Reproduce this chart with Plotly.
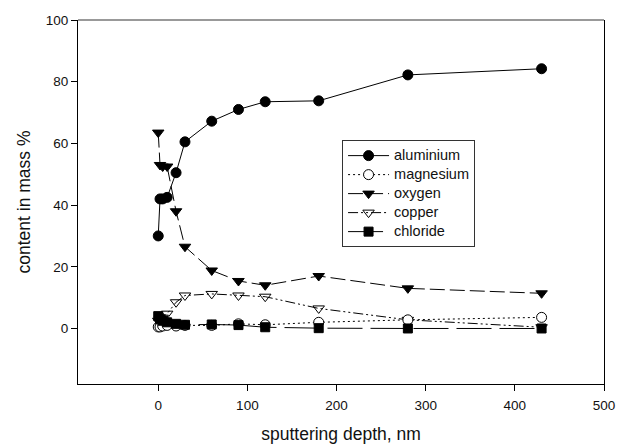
import plotly.graph_objects as go

depth = [0, 2, 5, 10, 20, 30, 60, 90, 120, 180, 280, 430]
aluminium = [30, 42, 42, 42.5, 50.5, 60.5, 67.2, 71, 73.5, 73.8, 82.2, 84.2]
magnesium = [0.5, 0.5, 0.8, 1.0, 0.8, 1.0, 1.0, 1.5, 1.2, 2.0, 2.8, 3.6]
oxygen = [63.5, 53, 52.5, 52.5, 38, 26.5, 18.8, 15.4, 14.0, 17.0, 13.0, 11.4]
copper = [2.5, 3.0, 3.5, 4.8, 8.5, 10.7, 11.2, 10.7, 10.3, 6.5, 2.8, 0.4]
chloride = [4.0, 3.0, 2.5, 2.0, 1.5, 1.2, 1.3, 1.1, 0.4, 0.1, 0.0, 0.0]

x_ticks = [0, 100, 200, 300, 400, 500]
y_ticks = [0, 20, 40, 60, 80, 100]

fig = go.Figure()

def add(name, y, symbol, fill, dash, rank, size=10):
    fig.add_trace(go.Scatter(
        x=depth, y=y, mode="lines+markers",
        name='<span style="font-size:14.5px">' + name + '</span>',
        line=dict(color="black", width=1, dash=dash),
        marker=dict(symbol=symbol, size=size, color=fill,
                    line=dict(color="black", width=1)),
        legendrank=rank,
    ))

add("aluminium", aluminium, "circle", "black", "solid", 1, 10)
add("oxygen", oxygen, "triangle-down", "black", "15px,5px", 3, 10)
add("copper", copper, "triangle-down-open", "black", "10px,3px,2px,3px,2px,3px", 4, 10)
add("magnesium", magnesium, "circle", "white", "2px,3px", 2, 10)
add("chloride", chloride, "square", "black", "35px,8px", 5, 9)

fig.update_layout(
    width=618, height=444,
    margin=dict(l=78, r=14, t=20, b=60, autoexpand=False),
    paper_bgcolor="white", plot_bgcolor="white",
    font=dict(family="Liberation Sans, Arial, sans-serif", size=13.5, color="#111"),
    legend=dict(
        x=0.502, y=0.670, xanchor="left", yanchor="top",
        bordercolor="#333", borderwidth=1, bgcolor="white",
        font=dict(size=11.8), itemwidth=41, tracegroupgap=0,
    ),
    showlegend=True,
)
fig.update_xaxes(
    range=[-90, 500], tickvals=x_ticks, ticks="outside", ticklen=6,
    tickcolor="black", showline=True, linecolor="black", linewidth=1,
    showgrid=False, zeroline=False, ticklabelstandoff=3, automargin=False,
    tickfont=dict(size=13.5),
    title=dict(text="sputtering depth, nm", standoff=18, font=dict(size=17.5)),
)
fig.update_yaxes(
    range=[-18, 100], tickvals=y_ticks, ticks="outside", ticklen=6,
    tickcolor="black", showline=True, linecolor="black", linewidth=1,
    mirror=True, showgrid=False, zeroline=False, automargin=False,
    tickfont=dict(size=13.5),
    title=dict(text="content in mass %", standoff=10, font=dict(size=17.5)),
)
fig.add_shape(type="line", xref="paper", yref="paper", x0=0, x1=1, y0=1, y1=1,
              line=dict(color="#777", width=1.5))

fig.write_html("out.html")
